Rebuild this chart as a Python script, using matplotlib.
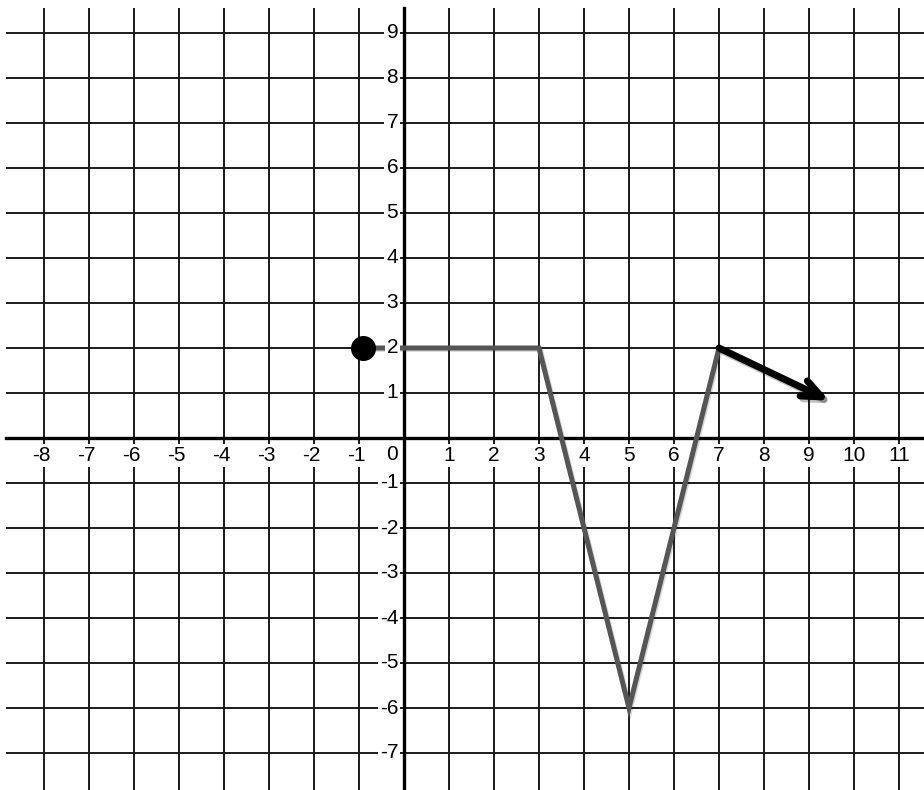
import matplotlib
matplotlib.use("Agg")
import matplotlib.pyplot as plt
import matplotlib.patheffects as pe

plt.rcParams['font.family'] = ['Liberation Sans', 'DejaVu Sans']

# graph data
line_x = [-0.92, 0, 3, 5, 7]
line_y = [2, 2, 2, -6, 2]
dot = (-0.92, 2)
arrow_start = (7, 2)
arrow_end = (9.45, 0.83)

x_ticks = list(range(-8, 12))
y_ticks = list(range(-8, 10))

# view window (pixels -> units, 45 px per unit)
x_min, x_max = -404 / 45, 520 / 45
y_min, y_max = -352 / 45, 438 / 45
grid_left, grid_top = -8.84, 9.56

fig = plt.figure(figsize=(9.24, 7.9), dpi=100)
ax = fig.add_axes([0, 0, 1, 1])
ax.set_xlim(x_min, x_max)
ax.set_ylim(y_min, y_max)
ax.axis('off')

# grid
for v in x_ticks:
    ax.plot([v, v], [y_min, grid_top], color='#1a1a1a', lw=1.4, zorder=1,
            solid_capstyle='butt')
for v in y_ticks:
    ax.plot([grid_left, x_max], [v, v], color='#1a1a1a', lw=1.4, zorder=1,
            solid_capstyle='butt')

# axes
ax.plot([grid_left, x_max], [0, 0], color='black', lw=2.4, zorder=2)
ax.plot([0, 0], [y_min, grid_top], color='black', lw=2.4, zorder=2)

box = dict(facecolor='white', edgecolor='none', pad=1.5)
fs = 15

# tick labels
for v in x_ticks:
    if v == 0:
        continue
    if v < 0:
        ax.text(v + 0.14, -0.38, str(v), ha='right', va='center', fontsize=fs,
                bbox=box, zorder=4, clip_on=True)
    else:
        ax.text(v, -0.38, str(v), ha='center', va='center', fontsize=fs,
                bbox=box, zorder=4, clip_on=True)
for v in y_ticks:
    if v == 0:
        continue
    ax.text(-0.13, v, str(v), ha='right', va='center', fontsize=fs,
            bbox=box, zorder=4, clip_on=True)
ax.text(-0.13, -0.36, '0', ha='right', va='center', fontsize=fs,
        bbox=box, zorder=4)

# graph
shadow = [pe.SimpleLineShadow(offset=(1, -1), alpha=0.15), pe.Normal()]
ax.plot(line_x, line_y, color='#555555', lw=3.6, zorder=3,
        solid_joinstyle='miter', path_effects=shadow)
ax.plot(*dot, 'o', color='black', markersize=17, zorder=5)
ax.annotate('', xy=arrow_end, xytext=arrow_start, zorder=5,
            arrowprops=dict(arrowstyle='->, head_length=1.4, head_width=0.6',
                            color='black', lw=5, shrinkA=0, shrinkB=0,
                            capstyle='round',
                            path_effects=[pe.SimpleLineShadow(offset=(2, -2), alpha=0.25),
                                          pe.Normal()]))

plt.savefig('out.png', dpi=100)
